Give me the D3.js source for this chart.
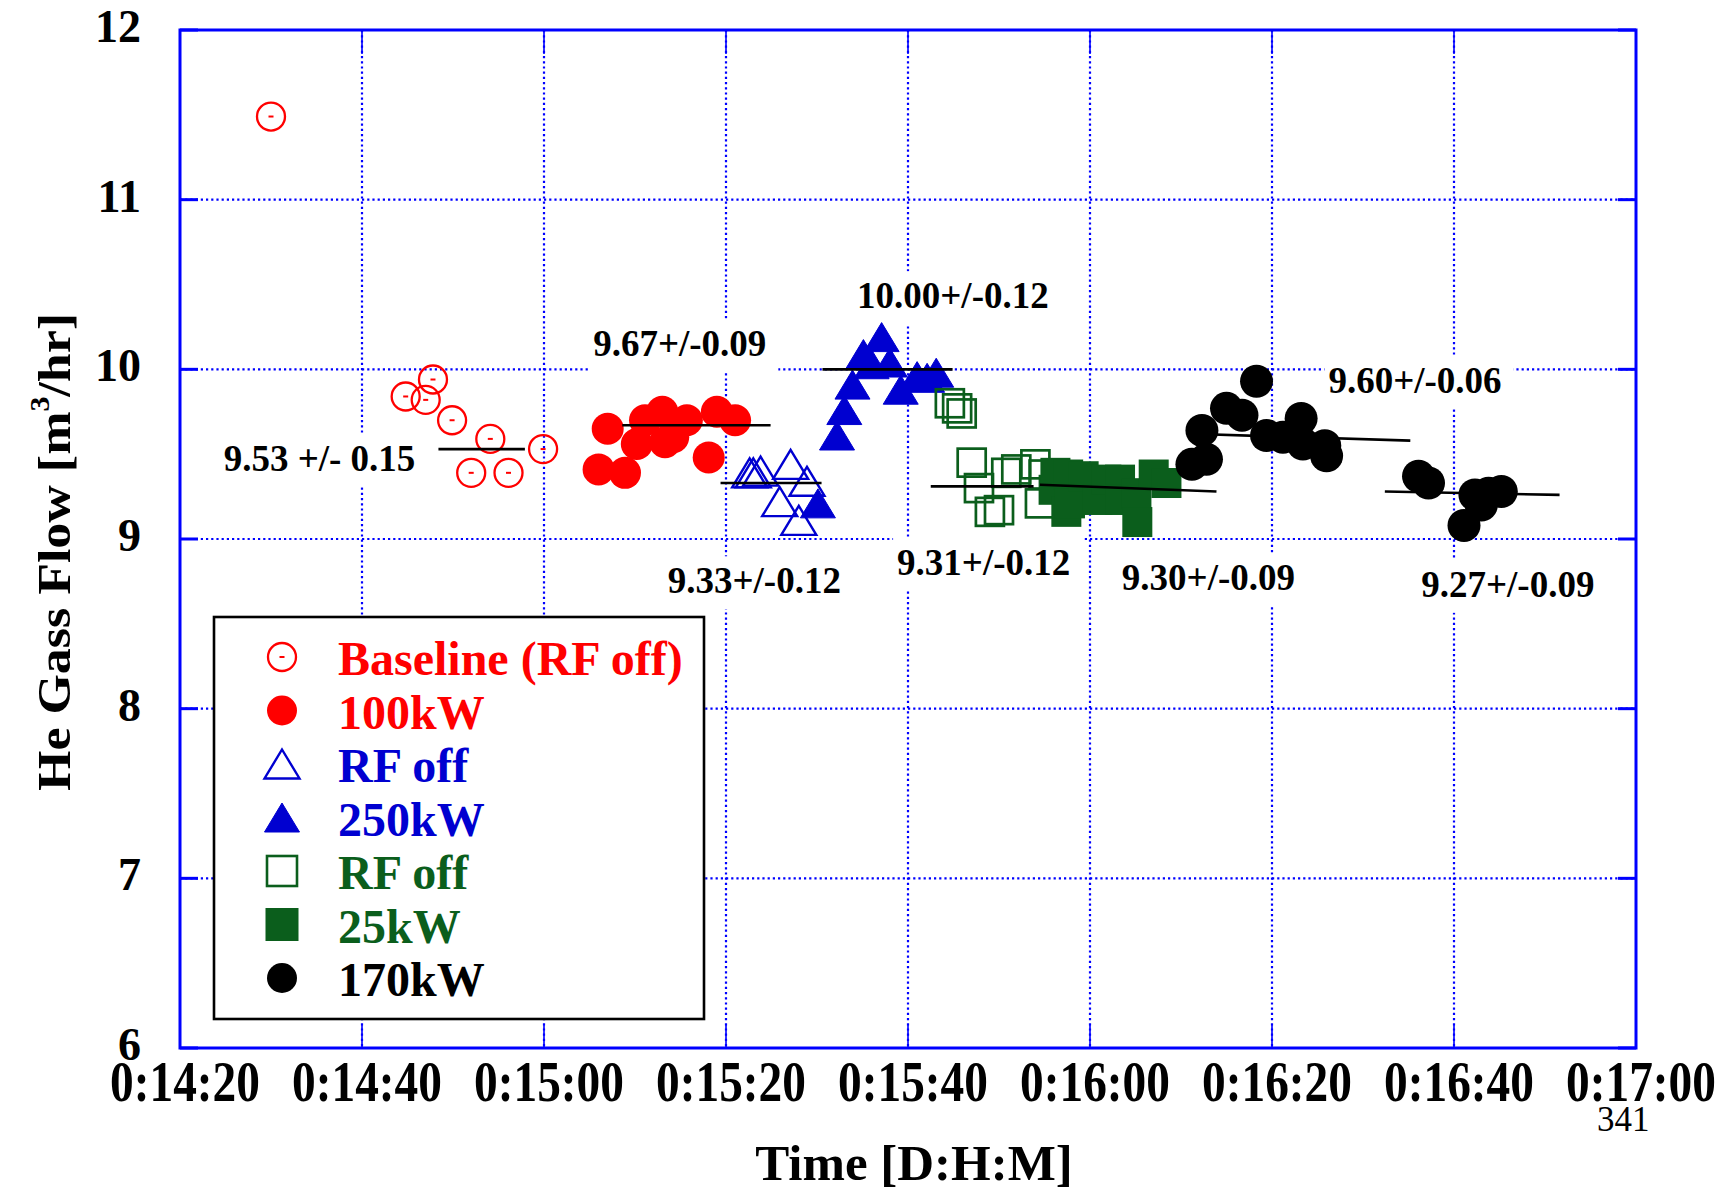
<!DOCTYPE html>
<html>
<head>
<meta charset="utf-8">
<script src="https://cdn.jsdelivr.net/npm/d3@7"></script>
<style>
  body { margin: 0; background: #fff; }
  svg { display: block; }
  text { font-family: "Liberation Serif", "Times New Roman", Times, serif; }
</style>
</head>
<body>
<svg id="chart" width="1733" height="1192"></svg>
<script>
// Time is in seconds of the clock reading (0:14:20 -> 860 s)
const xTickValues = [860, 880, 900, 920, 940, 960, 980, 1000, 1020];
const xTickLabels = ["0:14:20", "0:14:40", "0:15:00", "0:15:20", "0:15:40", "0:16:00", "0:16:20", "0:16:40", "0:17:00"];
const yTickValues = [6, 7, 8, 9, 10, 11, 12];

// He gas flow [m3/hr] per run condition: [time s, flow]
const baselineRfOff = [[870.0, 11.49], [884.8, 9.84], [887.0, 9.82], [887.8, 9.94], [889.9, 9.70],
  [892.0, 9.39], [894.1, 9.59], [896.1, 9.39], [899.9, 9.53]];
const power100kW = [[906.0, 9.41], [907.0, 9.65], [908.9, 9.39], [910.2, 9.56], [911.1, 9.70],
  [913.0, 9.75], [913.3, 9.57], [914.2, 9.60], [915.7, 9.70], [918.1, 9.48], [919.0, 9.75], [921.0, 9.70]];
const rfOffBlue = [[922.6, 9.39], [923.0, 9.39], [923.8, 9.40], [925.9, 9.22], [927.1, 9.44],
  [928.0, 9.11], [928.9, 9.34]];
const power250kW = [[930.1, 9.21], [932.2, 9.61], [933.0, 9.76], [933.9, 9.91], [935.1, 10.09],
  [936.0, 10.03], [937.1, 10.19], [938.0, 10.04], [939.2, 9.88], [941.0, 9.96], [942.1, 9.95], [943.1, 9.98]];
const rfOffGreen = [[944.6, 9.80], [945.4, 9.77], [945.9, 9.74], [947.0, 9.45], [947.8, 9.30],
  [949.0, 9.16], [950.0, 9.17], [950.8, 9.39], [951.9, 9.41], [954.0, 9.44], [954.5, 9.21], [954.9, 9.38]];
const power25kW = [[956.0, 9.29], [956.2, 9.39], [957.4, 9.16], [957.6, 9.38], [957.8, 9.21],
  [959.3, 9.37], [960.8, 9.23], [961.8, 9.35], [963.3, 9.35], [963.3, 9.23], [965.1, 9.27],
  [965.2, 9.10], [967.0, 9.38], [968.4, 9.33]];
const power170kW = [[971.2, 9.44], [972.3, 9.64], [972.8, 9.47], [975.0, 9.77], [976.7, 9.73],
  [978.3, 9.93], [979.4, 9.61], [981.2, 9.60], [983.2, 9.71], [983.4, 9.56], [985.8, 9.55],
  [986.0, 9.49], [996.1, 9.37], [997.2, 9.33], [1001.1, 9.08], [1002.3, 9.26], [1003.0, 9.20],
  [1003.8, 9.27], [1005.2, 9.28]];

const seriesNames = ["Baseline (RF off)", "100kW", "RF off", "250kW", "RF off", "25kW", "170kW"];

// Mean of each segment with its spread
const fitLabels = ["9.53 +/- 0.15", "9.67+/-0.09", "9.33+/-0.12", "10.00+/-0.12",
  "9.31+/-0.12", "9.30+/-0.09", "9.60+/-0.06", "9.27+/-0.09"];
const fitMeans = [9.53, 9.67, 9.33, 10.00, 9.31, 9.30, 9.60, 9.27];
const fitStart = [888.4, 908.6, 919.4, 930.6, 942.5, 954.5, 971.0, 992.4];
const fitEnd = [897.9, 924.9, 930.5, 944.9, 953.8, 973.9, 995.2, 1011.6];
const fitDrift = [0, 0, 0, 0, 0, -0.04, -0.04, -0.02];

// ---- layout ----
const svg = d3.select("#chart");
const plot = { left: 180, right: 1636, top: 30, bottom: 1048 };
const x = d3.scaleLinear().domain([860, 1020]).range([plot.left, plot.right]);
const y = d3.scaleLinear().domain([6, 12]).range([plot.bottom, plot.top]);

const RED = "#ff0000", BLUE = "#0000d0", GREEN = "#0b5e1c", BLACK = "#000000";
const GRID = "#0000ff";

// where each mean label sits, in axis units (left edge time, baseline flow)
const labelSpots = [[864.8, 9.40], [905.4, 10.08], [913.6, 8.68], [934.4, 10.36],
  [938.8, 8.79], [963.5, 8.70], [986.2, 9.86], [996.4, 8.66]];

svg.append("rect").attr("width", 1733).attr("height", 1192).attr("fill", "#fff");

// dotted grid
const grid = svg.append("g").attr("stroke", GRID).attr("stroke-width", 2.2).attr("stroke-dasharray", "2.2,3");
grid.selectAll("line.v").data(xTickValues.slice(1, -1)).join("line")
  .attr("x1", d => x(d)).attr("x2", d => x(d)).attr("y1", plot.top).attr("y2", plot.bottom);
grid.selectAll("line.h").data(yTickValues.slice(1, -1)).join("line")
  .attr("y1", d => y(d)).attr("y2", d => y(d)).attr("x1", plot.left).attr("x2", plot.right);

// mean labels on white boxes
const labelG = svg.append("g");
fitLabels.forEach((txt, i) => {
  const g = labelG.append("g");
  const t = g.append("text")
    .attr("x", x(labelSpots[i][0])).attr("y", y(labelSpots[i][1]))
    .attr("font-size", 37).attr("font-weight", "bold").attr("fill", BLACK)
    .text(txt);
  const b = t.node().getBBox();
  g.insert("rect", "text")
    .attr("x", b.x - 4).attr("y", b.y - 4)
    .attr("width", b.width + 16).attr("height", b.height + 12)
    .attr("fill", "#fff");
});

// marker shapes
function triPath(w, h) {
  return `M0,${-h / 2}L${w / 2},${h / 2}L${-w / 2},${h / 2}Z`;
}
function drawCircleOpen(g, data, color) {
  const s = g.selectAll(null).data(data).join("g")
    .attr("transform", d => `translate(${x(d[0])},${y(d[1])})`);
  s.append("circle").attr("r", 14).attr("fill", "none").attr("stroke", color).attr("stroke-width", 2.3);
  s.append("line").attr("x1", -2.5).attr("x2", 2.5).attr("stroke", color).attr("stroke-width", 2);
}
function drawCircleFilled(g, data, color, r) {
  g.selectAll(null).data(data).join("circle")
    .attr("cx", d => x(d[0])).attr("cy", d => y(d[1])).attr("r", r).attr("fill", color);
}
function drawTriangle(g, data, color, filled) {
  g.selectAll(null).data(data).join("path")
    .attr("transform", d => `translate(${x(d[0])},${y(d[1])})`)
    .attr("d", triPath(35, 29))
    .attr("fill", filled ? color : "none")
    .attr("stroke", color).attr("stroke-width", filled ? 1 : 2.4).attr("stroke-linejoin", "miter");
}
function drawSquare(g, data, color, filled) {
  const s = filled ? 30 : 28;
  g.selectAll(null).data(data).join("rect")
    .attr("x", d => x(d[0]) - s / 2).attr("y", d => y(d[1]) - s / 2)
    .attr("width", s).attr("height", s)
    .attr("fill", filled ? color : "none")
    .attr("stroke", color).attr("stroke-width", filled ? 0 : 2.7);
}

const marks = svg.append("g");
drawCircleOpen(marks.append("g"), baselineRfOff, RED);
drawCircleFilled(marks.append("g"), power100kW, RED, 16);
drawTriangle(marks.append("g"), rfOffBlue, BLUE, false);
drawTriangle(marks.append("g"), power250kW, BLUE, true);
drawSquare(marks.append("g"), rfOffGreen, GREEN, false);
drawSquare(marks.append("g"), power25kW, GREEN, true);
drawCircleFilled(marks.append("g"), power170kW, BLACK, 16.5);

// segment mean lines
svg.append("g").selectAll("line").data(fitMeans).join("line")
  .attr("x1", (d, i) => x(fitStart[i])).attr("x2", (d, i) => x(fitEnd[i]))
  .attr("y1", (d, i) => y(d - fitDrift[i] / 2)).attr("y2", (d, i) => y(d + fitDrift[i] / 2))
  .attr("stroke", BLACK).attr("stroke-width", 2.6);

// frame and ticks
const axes = svg.append("g").attr("stroke", GRID);
axes.append("rect")
  .attr("x", plot.left).attr("y", plot.top)
  .attr("width", plot.right - plot.left).attr("height", plot.bottom - plot.top)
  .attr("fill", "none").attr("stroke-width", 3);
axes.selectAll("line.yl").data(yTickValues).join("line")
  .attr("x1", plot.left).attr("x2", plot.left + 18).attr("y1", d => y(d)).attr("y2", d => y(d)).attr("stroke-width", 3);
axes.selectAll("line.yr").data(yTickValues).join("line")
  .attr("x1", plot.right - 18).attr("x2", plot.right).attr("y1", d => y(d)).attr("y2", d => y(d)).attr("stroke-width", 3);
axes.selectAll("line.xb").data(xTickValues).join("line")
  .attr("x1", d => x(d)).attr("x2", d => x(d)).attr("y1", plot.bottom - 24).attr("y2", plot.bottom).attr("stroke-width", 1.6);
axes.selectAll("line.xt").data(xTickValues).join("line")
  .attr("x1", d => x(d)).attr("x2", d => x(d)).attr("y1", plot.top).attr("y2", plot.top + 24).attr("stroke-width", 1.6);

// tick labels
svg.append("g").selectAll("text").data(yTickValues).join("text")
  .attr("x", 141).attr("y", d => y(d) + 12)
  .attr("text-anchor", "end").attr("font-size", 46).attr("font-weight", "bold")
  .text(d => d);
svg.append("g").selectAll("text").data(xTickValues).join("text")
  .attr("x", (d) => x(d) + 5).attr("y", 1101)
  .attr("text-anchor", "middle").attr("font-size", 58).attr("font-weight", "bold")
  .attr("textLength", 150).attr("lengthAdjust", "spacingAndGlyphs")
  .text((d, i) => xTickLabels[i]);

// axis titles
svg.append("text")
  .attr("x", 914).attr("y", 1180)
  .attr("text-anchor", "middle").attr("font-size", 51).attr("font-weight", "bold")
  .text("Time [D:H:M]");
const yTitle = svg.append("text")
  .attr("transform", "translate(70,552) rotate(-90)")
  .attr("text-anchor", "middle").attr("font-size", 47).attr("font-weight", "bold")
  .attr("textLength", 478).attr("lengthAdjust", "spacingAndGlyphs");
yTitle.append("tspan").text("He Gass Flow [m");
yTitle.append("tspan").attr("font-size", 27).attr("dy", -21).text("3");
yTitle.append("tspan").attr("dy", 21).text("/hr]");

svg.append("text")
  .attr("x", 1597).attr("y", 1131)
  .attr("font-size", 35).text("341");

// legend
const legend = svg.append("g");
legend.append("rect")
  .attr("x", 214).attr("y", 617).attr("width", 490).attr("height", 402)
  .attr("fill", "#fff").attr("stroke", BLACK).attr("stroke-width", 2.6);
const legendColors = [RED, RED, BLUE, BLUE, GREEN, GREEN, BLACK];
const rowY = i => 657 + i * 53.5;
seriesNames.forEach((name, i) => {
  const cy = rowY(i), cx = 282;
  const g = legend.append("g").attr("transform", `translate(${cx},${cy})`);
  const c = legendColors[i];
  if (i === 0) {
    g.append("circle").attr("r", 14).attr("fill", "none").attr("stroke", c).attr("stroke-width", 2.3);
    g.append("line").attr("x1", -2.5).attr("x2", 2.5).attr("stroke", c).attr("stroke-width", 2);
  } else if (i === 1 || i === 6) {
    g.append("circle").attr("r", 15).attr("fill", c);
  } else if (i === 2 || i === 3) {
    g.append("path").attr("d", triPath(35, 29))
      .attr("fill", i === 3 ? c : "none").attr("stroke", c).attr("stroke-width", i === 3 ? 1 : 2.4);
  } else {
    const s = i === 5 ? 33 : 30;
    g.append("rect").attr("x", -s / 2).attr("y", -s / 2).attr("width", s).attr("height", s)
      .attr("fill", i === 5 ? c : "none").attr("stroke", c).attr("stroke-width", i === 5 ? 0 : 2.6);
  }
  legend.append("text")
    .attr("x", 338).attr("y", cy + 18)
    .attr("font-size", 48).attr("font-weight", "bold").attr("fill", c)
    .text(name);
});
</script>
</body>
</html>
